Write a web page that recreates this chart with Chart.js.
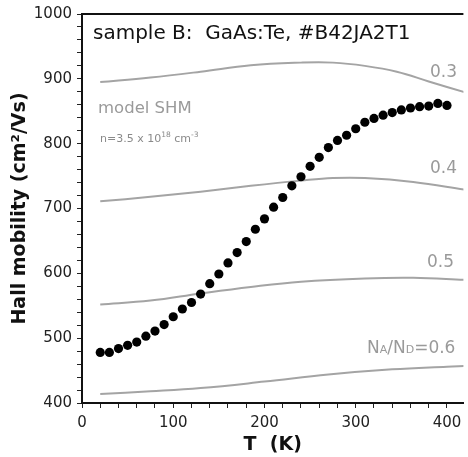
<!DOCTYPE html>
<html>
<head>
<meta charset="utf-8">
<script src="https://cdn.jsdelivr.net/npm/chart.js@4/dist/chart.umd.min.js"></script>
<style>
  html, body { margin: 0; padding: 0; background: #fff; }
  #wrap { width: 468px; height: 457px; }
</style>
</head>
<body>
<div id="wrap"><canvas id="chart" width="468" height="457"></canvas></div>
<script>
// measured Hall mobility, sample B
const temps = [20, 30, 40, 50, 60, 70, 80, 90, 100, 110, 120, 130, 140, 150, 160, 170, 180, 190, 200,
  210, 220, 230, 240, 250, 260, 270, 280, 290, 300, 310, 320, 330, 340, 350, 360, 370, 380, 390, 400];
const mobility = [478, 478, 484, 489, 494, 503, 511, 521, 533, 545, 555, 568, 584, 599, 616, 632, 649, 668, 684,
  702, 717, 735, 749, 765, 779, 794, 805, 813, 823, 833, 839, 844, 848, 852, 855, 857, 858, 862, 859];

// model SHM curves for NA/ND = 0.3 ... 0.6
const modelT03 = [20, 75, 130, 185, 240, 275, 310, 345, 380, 420];
const model03 = [895, 902, 911, 921, 925, 925, 920, 911, 896, 879];
const modelT04 = [20, 75, 130, 185, 240, 275, 310, 363, 420];
const model04 = [711, 718, 726, 735, 743, 747, 747, 741, 729];
const modelT05 = [20, 75, 130, 185, 240, 310, 363, 420];
const model05 = [552, 558, 569, 579, 587, 592, 593, 590];
const modelT06 = [20, 75, 130, 200, 270, 340, 400, 420];
const model06 = [414, 418, 423, 433, 444, 452, 456, 457];

const xTickLabels = [0, 100, 200, 300, 400];
const yTickLabels = [400, 500, 600, 700, 800, 900, 1000];

const FONT = "'DejaVu Sans', Verdana, sans-serif";
const curveGray = "#a4a4a4";
const labelGray = "#9a9a9a";

const toPoints = (xs, ys) => xs.map((x, i) => ({ x: x, y: ys[i] }));

const modelLine = (xs, ys) => ({
  type: "line",
  data: toPoints(xs, ys),
  borderColor: curveGray,
  borderWidth: 2,
  pointRadius: 0,
  tension: 0.4,
  fill: false
});

// text drawn inside the plot: title, model note and curve labels
const annotations = {
  id: "annotations",
  afterDraw(chart) {
    const ctx = chart.ctx;
    const area = chart.chartArea;
    ctx.save();

    // top frame line
    ctx.strokeStyle = "#111";
    ctx.lineWidth = 2;
    ctx.beginPath();
    ctx.moveTo(area.left, area.top);
    ctx.lineTo(area.right, area.top);
    ctx.stroke();

    ctx.textBaseline = "alphabetic";
    ctx.textAlign = "left";

    ctx.fillStyle = "#111";
    ctx.font = `20px ${FONT}`;
    ctx.fillText("sample B:  GaAs:Te, #B42JA2T1", 93, 39);

    ctx.fillStyle = labelGray;
    ctx.font = `16.5px ${FONT}`;
    ctx.fillText("model SHM", 98, 113);

    // n=3.5 x 10^18 cm^-3
    ctx.fillStyle = "#8a8a8a";
    let x = 100;
    const y = 142;
    const part = (txt, size, dy) => {
      ctx.font = `${size}px ${FONT}`;
      ctx.fillText(txt, x, y + dy);
      x += ctx.measureText(txt).width;
    };
    part("n=3.5 x 10", 11, 0);
    part("18", 7.5, -5);
    part(" cm", 11, 0);
    part("-3", 7.5, -5);

    ctx.fillStyle = labelGray;
    ctx.font = `17px ${FONT}`;
    ctx.fillText("0.3", 430, 77);
    ctx.fillText("0.4", 430, 173);
    ctx.fillText("0.5", 427, 267);

    // NA/ND=0.6
    x = 367;
    const y6 = 353;
    const p6 = (txt, size, dy) => {
      ctx.font = `${size}px ${FONT}`;
      ctx.fillText(txt, x, y6 + dy);
      x += ctx.measureText(txt).width;
    };
    p6("N", 17, 0);
    p6("A", 11, 0);
    p6("/N", 17, 0);
    p6("D", 11, 0);
    p6("=0.6", 17, 0);

    ctx.restore();
  }
};

new Chart(document.getElementById("chart"), {
  type: "scatter",
  data: {
    datasets: [
      {
        type: "scatter",
        data: toPoints(temps, mobility),
        backgroundColor: "#000",
        borderColor: "#000",
        pointRadius: 4.6,
        pointBorderWidth: 0
      },
      modelLine(modelT03, model03),
      modelLine(modelT04, model04),
      modelLine(modelT05, model05),
      modelLine(modelT06, model06)
    ]
  },
  options: {
    responsive: false,
    animation: false,
    devicePixelRatio: 1,
    layout: { padding: { top: 13, right: 0, bottom: 0, left: 0 } },
    plugins: {
      legend: { display: false },
      tooltip: { enabled: false }
    },
    scales: {
      x: {
        type: "linear",
        min: 0,
        max: 418,
        afterFit: (scale) => { scale.height = 54; },
        afterBuildTicks: (scale) => {
          const ticks = [];
          for (let v = 0; v <= 400; v += 20) ticks.push({ value: v });
          scale.ticks = ticks;
        },
        ticks: {
          autoSkip: false,
          maxRotation: 0,
          padding: 6,
          color: "#222",
          font: { family: FONT, size: 15 },
          callback: (v) => (xTickLabels.includes(v) ? String(v) : "")
        },
        grid: {
          drawOnChartArea: false,
          tickLength: 5,
          tickColor: "#222"
        },
        border: { color: "#111", width: 2 },
        title: {
          display: true,
          text: "T  (K)",
          color: "#111",
          font: { family: FONT, size: 19, weight: "bold" },
          padding: { top: 0, bottom: 1 }
        }
      },
      y: {
        min: 400,
        max: 1000,
        afterFit: (scale) => { scale.width = 82; },
        afterBuildTicks: (scale) => {
          const ticks = [];
          for (let v = 400; v <= 1000; v += 20) ticks.push({ value: v });
          scale.ticks = ticks;
        },
        ticks: {
          autoSkip: false,
          padding: 5,
          color: "#222",
          font: { family: FONT, size: 15 },
          callback: (v) => (yTickLabels.includes(v) ? String(v) : "")
        },
        grid: {
          drawOnChartArea: false,
          tickLength: 5,
          tickColor: "#222"
        },
        border: { color: "#111", width: 2 },
        title: {
          display: true,
          text: "Hall mobility (cm²/Vs)",
          color: "#111",
          font: { family: FONT, size: 19, weight: "bold" },
          padding: { top: 9, bottom: 0 }
        }
      }
    }
  },
  plugins: [annotations]
});
</script>
</body>
</html>
